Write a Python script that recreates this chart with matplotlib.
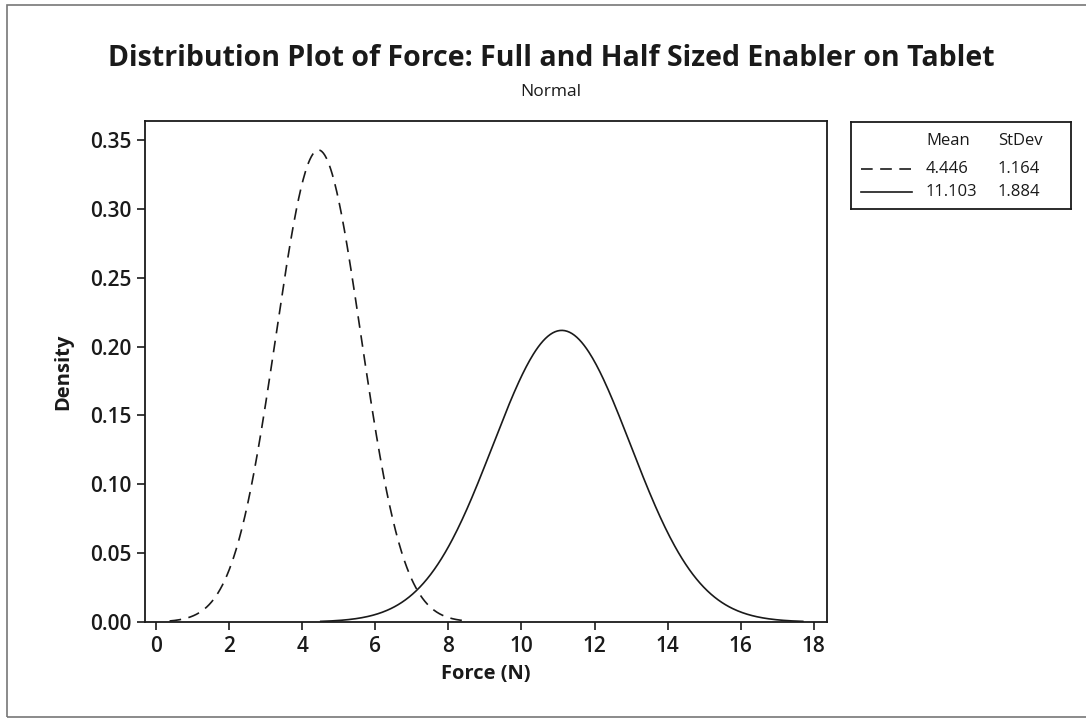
import numpy as np
import matplotlib

matplotlib.use("Agg")
import matplotlib.pyplot as plt
from matplotlib.patches import Rectangle

plt.rcParams["font.family"] = ["Open Sans", "DejaVu Sans"]

# distribution parameters
means = [4.446, 11.103]
stdevs = [1.164, 1.884]
styles = [(0, (7, 4.5)), "-"]
x_ticks = [0, 2, 4, 6, 8, 10, 12, 14, 16, 18]
y_ticks = [0.00, 0.05, 0.10, 0.15, 0.20, 0.25, 0.30, 0.35]

INK = "#1a1a1a"

fig = plt.figure(figsize=(10.86, 7.19), dpi=100)
# outer frame
fig.patches.append(Rectangle((7 / 1086, 2 / 719), 1.1, 712 / 719, transform=fig.transFigure,
                             fill=False, ec="#777777", lw=1.2))

ax = fig.add_axes([145 / 1086, 1 - 622 / 719, (827 - 145) / 1086, (622 - 121) / 719])
for mu, sd, ls in zip(means, stdevs, styles):
    x = np.linspace(mu - 3.5 * sd, mu + 3.5 * sd, 400)
    y = np.exp(-0.5 * ((x - mu) / sd) ** 2) / (sd * np.sqrt(2 * np.pi))
    ax.plot(x, y, color=INK, lw=1.2, linestyle=ls)

ax.set_xlim(-0.3, 18.36)
ax.set_ylim(0, 0.3638)
ax.set_xticks(x_ticks)
ax.set_yticks(y_ticks)
ax.set_yticklabels([f"{v:.2f}" for v in y_ticks])
ax.tick_params(direction="out", length=6, width=1.2, labelsize=15, colors=INK, pad=4)
for lab in ax.get_xticklabels() + ax.get_yticklabels():
    lab.set_fontweight("semibold")
for s in ax.spines.values():
    s.set_linewidth(1.3)
    s.set_color(INK)
ax.set_xlabel("Force (N)", fontsize=14.5, fontweight="bold", labelpad=5, color=INK)
ax.set_ylabel("Density", fontsize=14.5, fontweight="bold", labelpad=12, color=INK)

fig.text(551 / 1086, 1 - 59 / 719, "Distribution Plot of Force: Full and Half Sized Enabler on Tablet",
         ha="center", va="center", fontsize=20.5, fontweight="bold", color=INK)
fig.text(551 / 1086, 1 - 92 / 719, "Normal", ha="center", va="center", fontsize=12.5, color=INK)

# legend box
lg = fig.add_axes([851 / 1086, 1 - 209 / 719, (1071 - 851) / 1086, (209 - 122) / 719])
lg.set_xlim(851, 1071)
lg.set_ylim(209, 122)
lg.set_xticks([])
lg.set_yticks([])
for s in lg.spines.values():
    s.set_linewidth(1.3)
    s.set_color(INK)
lg.text(926, 141, "Mean", fontsize=12, va="center", color=INK)
lg.text(998, 141, "StDev", fontsize=12, va="center", color=INK)
for i, (mu, sd, ls) in enumerate(zip(means, stdevs, styles)):
    yy = 169 + 23 * i
    lg.plot([861, 912], [yy, yy], color=INK, lw=1.2, linestyle=ls)
    lg.text(926, yy, f"{mu:.3f}", fontsize=12, va="center", color=INK)
    lg.text(998, yy, f"{sd:.3f}", fontsize=12, va="center", color=INK)

fig.savefig("out.png", dpi=100)
